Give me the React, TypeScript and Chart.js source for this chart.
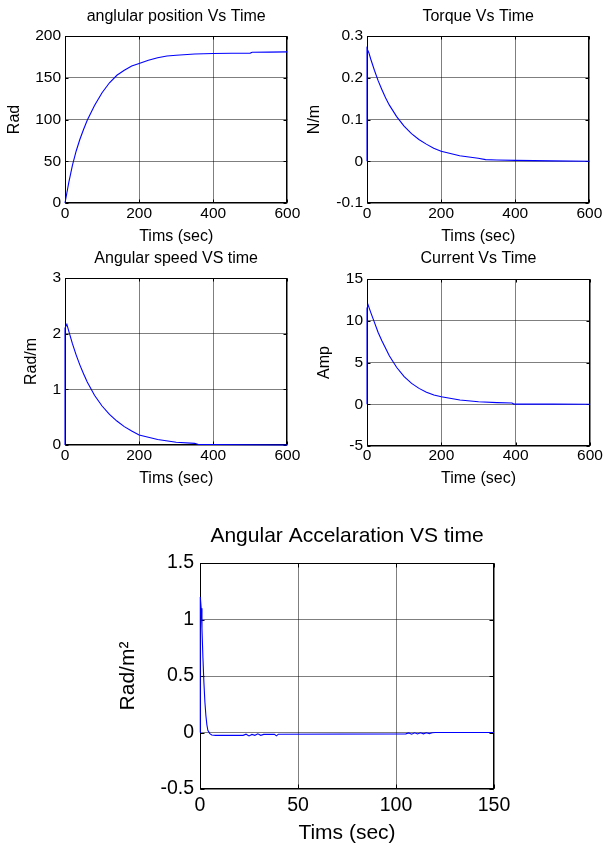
import React, { useEffect, useRef } from "react";
import { Chart, registerables } from "chart.js";

Chart.register(...registerables);

const FONT = "'Liberation Sans', Arial, Helvetica, sans-serif";

// ---------- data ----------
const posTime = [0, 5, 10, 20, 30, 40, 50, 60, 80, 100, 120, 140, 160, 180, 200, 225, 250, 275, 300, 350, 400, 450, 500, 505, 550, 600];
const posValue = [0, 12, 24, 45, 62, 76, 88, 99, 117, 132, 144, 153, 159, 164, 167, 171, 174, 176, 177, 178.5, 179, 179.3, 179.5, 180.5, 180.7, 181];

const torqueTime = [0, 0, 5, 10, 20, 30, 40, 50, 60, 80, 100, 120, 140, 160, 180, 200, 250, 300, 320, 350, 400, 500, 600];
const torqueValue = [0, 0.27, 0.26, 0.245, 0.218, 0.193, 0.172, 0.152, 0.135, 0.107, 0.084, 0.066, 0.052, 0.041, 0.031, 0.024, 0.013, 0.007, 0.004, 0.003, 0.002, 0.001, 0];

const speedTime = [0, 0, 5, 10, 20, 30, 40, 50, 60, 80, 100, 120, 140, 160, 180, 200, 250, 300, 350, 360, 400, 500, 600];
const speedValue = [0, 2.1, 2.17, 2.05, 1.82, 1.62, 1.44, 1.28, 1.13, 0.89, 0.7, 0.55, 0.43, 0.33, 0.25, 0.18, 0.1, 0.05, 0.03, 0.01, 0.01, 0.005, 0];

const currentTime = [0, 0, 3, 10, 20, 30, 40, 50, 60, 80, 100, 120, 140, 160, 180, 200, 250, 300, 350, 390, 395, 500, 600];
const currentValue = [0, 11.5, 11.9, 11.0, 9.8, 8.6, 7.6, 6.7, 5.8, 4.4, 3.3, 2.5, 1.9, 1.45, 1.1, 0.9, 0.5, 0.3, 0.2, 0.15, 0.02, 0.01, 0];

const accelTime = [0, 0, 0.3, 0.6, 1, 1.5, 2, 2.5, 3, 3.5, 4, 5, 6, 8, 22, 23.5, 25, 26.5, 28, 29.5, 31, 32.5, 38, 39, 40, 105, 106.5, 108, 109.5, 111, 112.5, 114, 115.5, 117, 118.5, 120, 150];
const accelValue = [0, 1.2, 1.2, 1.1, 0.92, 0.66, 0.44, 0.27, 0.15, 0.07, 0.02, -0.01, -0.022, -0.025, -0.025, -0.015, -0.03, -0.017, -0.025, -0.012, -0.025, -0.017, -0.017, -0.03, -0.015, -0.012, -0.004, -0.015, -0.003, -0.013, -0.003, -0.012, -0.002, -0.01, -0.002, 0, 0];

// ---------- tick labels ----------
const timeTicks600 = [0, 200, 400, 600];
const timeTicks150 = [0, 50, 100, 150];
const posTicks = [0, 50, 100, 150, 200];
const torqueTicks = [-0.1, 0, 0.1, 0.2, 0.3];
const speedTicks = [0, 1, 2, 3];
const currentTicks = [-5, 0, 5, 10, 15];
const accelTicks = [-0.5, 0, 0.5, 1, 1.5];

// ---------- titles ----------
const titles = [
  "anglular position Vs Time",
  "Torque Vs Time",
  "Angular speed VS time",
  "Current Vs Time",
  "Angular Accelaration VS time",
];
const yLabels = ["Rad", "N/m", "Rad/m", "Amp", "Rad/m\u00B2"];
const xLabels = ["Tims (sec)", "Tims (sec)", "Tims (sec)", "Time (sec)", "Tims (sec)"];

type Spec = {
  canvas: [number, number, number, number];
  area: [number, number, number, number];
  titleY: number;
  yLabelX: number;
  xTickY: number;
  xLabelY: number;
  title: string;
  xLabel: string;
  yLabel: string;
  xTicks: number[];
  yTicks: number[];
  time: number[];
  values: number[];
  fTitle: number;
  fTick: number;
  fLabel: number;
  yTickPad: number;
  tickLen: number;
};

const boxPlugin = {
  id: "matlabBox",
  beforeDatasetsDraw(chart: any) {
    const { ctx, chartArea } = chart;
    const tickLen = chart.options.plugins.matlabBox?.tickLen ?? 3;
    const L = Math.round(chartArea.left) + 0.5;
    const R = Math.round(chartArea.right) - 0.5;
    const T = Math.round(chartArea.top) + 0.5;
    const B = Math.round(chartArea.bottom) - 0.5;
    ctx.save();
    ctx.strokeStyle = "#000";
    ctx.lineWidth = 1;
    ctx.strokeRect(L, T, R - L, B - T);
    ctx.beginPath();
    const xs = chart.scales.x;
    const ys = chart.scales.y;
    xs.ticks.forEach((t: any) => {
      const px = Math.round(xs.getPixelForValue(t.value)) + 0.5;
      ctx.moveTo(px, B);
      ctx.lineTo(px, B - tickLen);
      ctx.moveTo(px, T);
      ctx.lineTo(px, T + tickLen);
    });
    ys.ticks.forEach((t: any) => {
      const py = Math.round(ys.getPixelForValue(t.value)) + 0.5;
      ctx.moveTo(L, py);
      ctx.lineTo(L + tickLen, py);
      ctx.moveTo(R, py);
      ctx.lineTo(R - tickLen, py);
    });
    ctx.stroke();
    ctx.restore();
  },
};

function Subplot({ spec }: { spec: Spec }) {
  const ref = useRef<HTMLCanvasElement | null>(null);
  useEffect(() => {
    const [cx, cy, cw, ch] = spec.canvas;
    const [L, T, R, B] = spec.area;
    const l = L - cx;
    const t = T - cy;
    const r = R - cx;
    const b = B - cy;
    const lhTitle = spec.fTitle * 1.2;
    const lhTick = spec.fTick * 1.2;
    const lhLabel = spec.fLabel * 1.2;
    const titlePadTop = spec.titleY - cy - lhTitle / 2;
    const titlePadBottom = t - titlePadTop - lhTitle;
    const yTitlePad = spec.yLabelX - cx - lhLabel / 2;
    const xTickPad = spec.xTickY - cy - b - lhTick / 2;
    const xTitlePadBottom = ch - (spec.xLabelY - cy) - lhLabel / 2;

    const data = spec.time.map((x, i) => ({ x, y: spec.values[i] }));
    const gridColor = "rgba(0,0,0,0.5)";

    const chart = new Chart(ref.current as HTMLCanvasElement, {
      type: "line",
      data: {
        datasets: [
          {
            data,
            borderColor: "#0000ff",
            borderWidth: 1.1,
            pointRadius: 0,
            tension: 0,
            fill: false,
            clip: false as any,
          },
        ],
      },
      plugins: [boxPlugin],
      options: {
        animation: false,
        responsive: false,
        devicePixelRatio: 1,
        parsing: false as any,
        layout: { padding: { left: 0, top: 0, right: cw - r, bottom: 0 } },
        plugins: {
          legend: { display: false },
          tooltip: { enabled: false },
          title: {
            display: true,
            text: spec.title,
            fullSize: false,
            color: "#000",
            font: { family: FONT, size: spec.fTitle, weight: "normal" as any, lineHeight: 1.2 },
            padding: { top: titlePadTop, bottom: titlePadBottom },
          },
          matlabBox: { tickLen: spec.tickLen },
        } as any,
        scales: {
          x: {
            type: "linear",
            min: spec.xTicks[0],
            max: spec.xTicks[spec.xTicks.length - 1],
            afterFit: (s: any) => {
              s.height = ch - b;
            },
            afterBuildTicks: (s: any) => {
              s.ticks = spec.xTicks.map((v) => ({ value: v }));
            },
            ticks: {
              color: "#000",
              font: { family: FONT, size: spec.fTick, lineHeight: 1.2 },
              padding: xTickPad,
              maxRotation: 0,
              autoSkip: false,
              callback: (v: any) => String(v),
            },
            grid: { color: gridColor, lineWidth: 1, drawTicks: false },
            border: { display: false },
            title: {
              display: true,
              text: spec.xLabel,
              color: "#000",
              font: { family: FONT, size: spec.fLabel, lineHeight: 1.2 },
              padding: { top: 0, bottom: xTitlePadBottom },
            },
          },
          y: {
            type: "linear",
            min: spec.yTicks[0],
            max: spec.yTicks[spec.yTicks.length - 1],
            afterFit: (s: any) => {
              s.width = l;
            },
            afterBuildTicks: (s: any) => {
              s.ticks = spec.yTicks.map((v) => ({ value: v }));
            },
            ticks: {
              color: "#000",
              font: { family: FONT, size: spec.fTick, lineHeight: 1.2 },
              padding: spec.yTickPad,
              autoSkip: false,
              callback: (v: any) => String(v),
            },
            grid: { color: gridColor, lineWidth: 1, drawTicks: false },
            border: { display: false },
            title: {
              display: true,
              text: spec.yLabel,
              color: "#000",
              font: { family: FONT, size: spec.fLabel, lineHeight: 1.2 },
              padding: { top: yTitlePad, bottom: 0 },
            },
          },
        },
      } as any,
    });
    return () => chart.destroy();
  }, [spec]);

  const [cx, cy, cw, ch] = spec.canvas;
  return (
    <canvas
      ref={ref}
      width={cw}
      height={ch}
      style={{ position: "absolute", left: cx, top: cy, width: cw, height: ch }}
    />
  );
}

const topFonts = { fTitle: 16, fTick: 15.5, fLabel: 16, yTickPad: 4, tickLen: 3 };
const bigFonts = { fTitle: 21, fTick: 19.5, fLabel: 21, yTickPad: 6, tickLen: 4 };

const specs: Spec[] = [
  {
    canvas: [0, 0, 302, 250], area: [65, 36, 288, 203], titleY: 17, yLabelX: 15, xTickY: 214, xLabelY: 237,
    title: titles[0], xLabel: xLabels[0], yLabel: yLabels[0], xTicks: timeTicks600, yTicks: posTicks,
    time: posTime, values: posValue, ...topFonts,
  },
  {
    canvas: [302, 0, 302, 250], area: [367, 36, 590, 203], titleY: 17, yLabelX: 315, xTickY: 214, xLabelY: 237,
    title: titles[1], xLabel: xLabels[1], yLabel: yLabels[1], xTicks: timeTicks600, yTicks: torqueTicks,
    time: torqueTime, values: torqueValue, ...topFonts,
  },
  {
    canvas: [0, 245, 302, 250], area: [65, 278, 288, 445], titleY: 259, yLabelX: 32, xTickY: 456, xLabelY: 479,
    title: titles[2], xLabel: xLabels[2], yLabel: yLabels[2], xTicks: timeTicks600, yTicks: speedTicks,
    time: speedTime, values: speedValue, ...topFonts,
  },
  {
    canvas: [302, 245, 302, 250], area: [367, 279, 590, 446], titleY: 259, yLabelX: 325, xTickY: 456, xLabelY: 479,
    title: titles[3], xLabel: xLabels[3], yLabel: yLabels[3], xTicks: timeTicks600, yTicks: currentTicks,
    time: currentTime, values: currentValue, ...topFonts,
  },
  {
    canvas: [100, 505, 420, 345], area: [200, 563, 494, 789], titleY: 536, yLabelX: 128, xTickY: 806, xLabelY: 833,
    title: titles[4], xLabel: xLabels[4], yLabel: yLabels[4], xTicks: timeTicks150, yTicks: accelTicks,
    time: accelTime, values: accelValue, ...bigFonts,
  },
];

export default function App() {
  useEffect(() => {
    document.body.style.margin = "0";
    document.body.style.background = "#fff";
  }, []);
  return (
    <div style={{ position: "absolute", left: 0, top: 0, width: 604, height: 850, background: "#fff" }}>
      {specs.map((s, i) => (
        <Subplot key={i} spec={s} />
      ))}
    </div>
  );
}
